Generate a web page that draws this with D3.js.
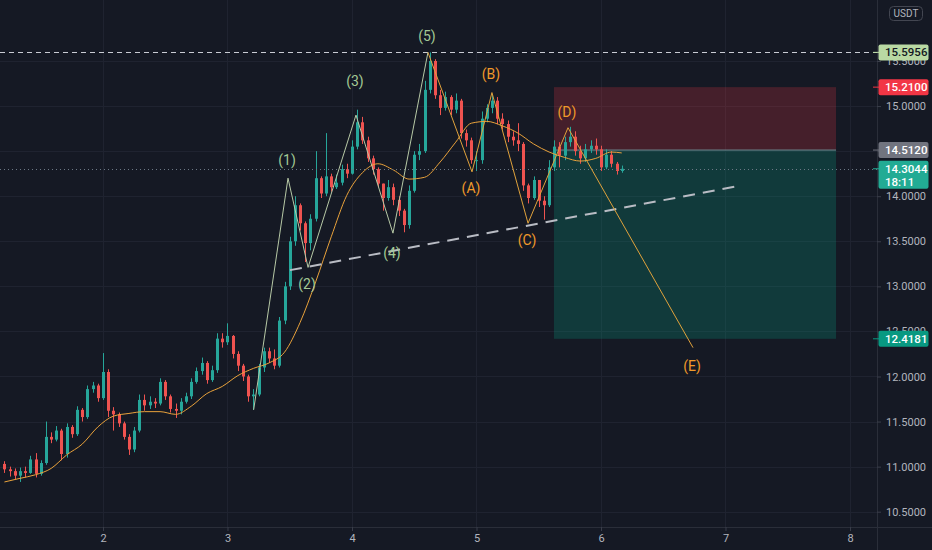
<!DOCTYPE html>
<html>
<head>
<meta charset="utf-8">
<script src="https://cdn.jsdelivr.net/npm/d3@7"></script>
<style>
  html, body { margin: 0; padding: 0; background: #151924; overflow: hidden; }
  svg { display: block; font-family: Roboto, "Noto Sans", "DejaVu Sans", sans-serif; }
</style>
</head>
<body>
<svg id="chart" width="932" height="550"></svg>
<script>
// ---- Hourly candles (USDT pair); candle i opens at hour firstHour + i ----
const firstHour = 29;
const firstOpen = 11.03;
const closes = [
  10.97, 10.95, 10.90, 10.95, 10.93, 11.08, 10.92, 11.04, 11.33, 11.30,
  11.40, 11.14, 11.44, 11.36, 11.63, 11.55, 11.86, 11.90, 11.76, 12.05,
  11.62, 11.58, 11.48, 11.33, 11.19, 11.40, 11.74, 11.68, 11.72, 11.70,
  11.94, 11.78, 11.64, 11.62, 11.72, 11.78, 11.94, 12.06, 12.15, 11.96,
  12.07, 12.42, 12.38, 12.45, 12.25, 12.12, 12.00, 11.78, 11.80, 12.10,
  12.28, 12.20, 12.12, 12.62, 13.00, 13.50, 13.90, 13.70, 13.48, 13.75,
  14.20, 14.03, 14.22, 14.10, 14.15, 14.30, 14.25, 14.55, 14.82, 14.62,
  14.42, 14.30, 14.14, 13.98, 14.10, 13.96, 13.84, 13.68, 14.06, 14.46,
  14.50, 15.18, 15.50, 15.12, 14.98, 15.10, 14.96, 15.06, 14.70, 14.62,
  14.40, 14.40, 14.86, 14.98, 15.06, 14.86, 14.80, 14.66, 14.62, 14.58,
  14.12, 13.98, 14.18, 13.95, 13.90, 14.32, 14.55, 14.45, 14.60, 14.66,
  14.50, 14.42, 14.52, 14.56, 14.52, 14.32, 14.46, 14.36, 14.28, 14.3044
];
const highs = [
  11.06, 11.00, 10.98, 10.99, 11.00, 11.12, 11.15, 11.07, 11.50, 11.38,
  11.45, 11.42, 11.48, 11.46, 11.67, 11.65, 11.90, 11.94, 11.92, 12.26,
  12.08, 11.66, 11.60, 11.50, 11.36, 11.44, 11.80, 11.80, 11.78, 11.76,
  11.98, 11.96, 11.80, 11.70, 11.76, 11.82, 11.98, 12.10, 12.21, 12.17,
  12.12, 12.48, 12.48, 12.59, 12.46, 12.28, 12.14, 12.02, 11.86, 12.14,
  12.32, 12.32, 12.30, 12.66, 13.05, 13.55, 14.00, 13.92, 13.72, 13.80,
  14.50, 14.22, 14.70, 14.25, 14.24, 14.35, 14.36, 14.62, 14.96, 14.88,
  14.66, 14.45, 14.32, 14.12, 14.18, 14.14, 14.00, 13.86, 14.12, 14.50,
  14.58, 15.28, 15.5956, 15.52, 15.18, 15.16, 15.12, 15.14, 15.08, 14.74,
  14.65, 14.50, 14.94, 15.02, 15.12, 15.10, 14.92, 14.84, 14.72, 14.81,
  14.60, 14.14, 14.22, 14.16, 14.00, 14.40, 14.62, 14.60, 14.66, 14.77,
  14.72, 14.56, 14.58, 14.62, 14.64, 14.56, 14.52, 14.50, 14.38, 14.34
];
const lows = [
  10.93, 10.89, 10.86, 10.83, 10.88, 10.92, 10.88, 10.90, 11.02, 11.26,
  11.28, 11.07, 11.10, 11.32, 11.34, 11.50, 11.53, 11.82, 11.72, 11.74,
  11.55, 11.40, 11.44, 11.30, 11.13, 11.16, 11.38, 11.62, 11.64, 11.65,
  11.68, 11.74, 11.60, 11.54, 11.58, 11.70, 11.75, 11.92, 12.02, 11.92,
  11.94, 12.04, 12.32, 12.35, 12.20, 12.06, 11.95, 11.72, 11.63, 11.78,
  12.05, 12.15, 12.08, 12.10, 12.58, 12.96, 13.45, 13.62, 13.27, 13.40,
  13.72, 13.98, 14.00, 14.05, 14.08, 14.12, 14.20, 14.24, 14.52, 14.58,
  14.38, 14.24, 14.10, 13.84, 13.95, 13.90, 13.78, 13.60, 13.64, 14.04,
  14.40, 14.48, 15.14, 15.08, 14.90, 14.95, 14.90, 14.92, 14.64, 14.55,
  14.36, 14.28, 14.36, 14.82, 14.92, 14.80, 14.74, 14.60, 14.56, 14.50,
  14.06, 13.92, 13.96, 13.88, 13.74, 13.88, 14.28, 14.32, 14.40, 14.55,
  14.45, 14.36, 14.38, 14.48, 14.46, 14.28, 14.30, 14.32, 14.24, 14.26
];

// Moving average, sampled every few candles
const maIndex = [0, 3, 6, 9, 12, 15, 18, 21, 24, 27, 30, 33, 36, 39, 42, 45, 48, 51, 54, 57,
  60, 63, 66, 69, 72, 75, 78, 81, 84, 87, 90, 93, 96, 99, 102, 105, 108, 111, 114, 117, 119];
const maValue = [10.83, 10.87, 10.91, 10.98, 11.13, 11.25, 11.44, 11.56, 11.59, 11.61,
  11.61, 11.58, 11.67, 11.81, 11.89, 12.01, 12.09, 12.15, 12.27, 12.60,
  13.05, 13.55, 14.01, 14.26, 14.36, 14.29, 14.19, 14.21, 14.38, 14.60,
  14.81, 14.83, 14.78, 14.70, 14.58, 14.49, 14.43, 14.39, 14.42, 14.49, 14.48];

// Elliott wave counts (day, price)
const impulseLabels = ["", "(1)", "(2)", "(3)", "(4)", "(5)"];
const impulseDays = [3.21, 3.486, 3.647, 4.032, 4.329, 4.610];
const impulsePrices = [11.63, 14.20, 13.21, 14.90, 13.59, 15.5956];
const correctiveLabels = ["", "(A)", "(B)", "(C)", "(D)", "(E)"];
const correctiveDays = [4.610, 4.964, 5.124, 5.414, 5.735, 6.739];
const correctivePrices = [15.5956, 14.27, 15.15, 13.70, 14.76, 12.32];

// Support trendline
const trendDays = [3.502, 7.133];
const trendPrices = [13.18, 14.12];

// Short position: stop, entry, target
const positionDays = [5.622, 7.888];
const stopPrice = 15.21;
const entryPrice = 14.512;
const targetPrice = 12.4181;

const highLevel = 15.5956;
const lastPrice = 14.3044;
const countdown = "18:11";
const currency = "USDT";

const priceTicks = [10.5, 11, 11.5, 12, 12.5, 13, 13.5, 14, 14.5, 15, 15.5];
const dayTicks = [2, 3, 4, 5, 6, 7, 8];

// ---- layout ----
const W = 932, H = 550;
const plotW = 877, plotH = 527;

const x = d3.scaleLinear().domain([1.1727, 8.2169]).range([0, plotW]);
const y = d3.scaleLinear().domain([10.5, 15.5]).range([511.7, 61]);

const svg = d3.select("#chart");
svg.append("rect").attr("width", W).attr("height", H).attr("fill", "#151924");

svg.append("defs").append("clipPath").attr("id", "plot")
  .append("rect").attr("width", plotW).attr("height", plotH);

const plot = svg.append("g").attr("clip-path", "url(#plot)");

// grid
plot.append("g").selectAll("line").data(priceTicks).join("line")
  .attr("x1", 0).attr("x2", plotW)
  .attr("y1", d => Math.round(y(d)) + 0.5).attr("y2", d => Math.round(y(d)) + 0.5)
  .attr("stroke", "#1f2330").attr("stroke-width", 1);
plot.append("g").selectAll("line").data(dayTicks).join("line")
  .attr("x1", d => Math.round(x(d)) + 0.5).attr("x2", d => Math.round(x(d)) + 0.5)
  .attr("y1", 0).attr("y2", plotH)
  .attr("stroke", "#1f2330").attr("stroke-width", 1);

// position zones
const px0 = x(positionDays[0]), px1 = x(positionDays[1]);
plot.append("rect")
  .attr("x", px0).attr("y", y(stopPrice))
  .attr("width", px1 - px0).attr("height", y(entryPrice) - y(stopPrice))
  .attr("fill", "rgba(242,54,69,0.22)");
plot.append("rect")
  .attr("x", px0).attr("y", y(entryPrice))
  .attr("width", px1 - px0).attr("height", y(targetPrice) - y(entryPrice))
  .attr("fill", "rgba(8,153,129,0.26)");
plot.append("line")
  .attr("x1", px0).attr("x2", px1)
  .attr("y1", y(entryPrice)).attr("y2", y(entryPrice))
  .attr("stroke", "#6f8a92").attr("stroke-width", 1);

// candles
const candles = closes.map((c, i) => ({
  day: (firstHour + i) / 24,
  o: i === 0 ? firstOpen : closes[i - 1],
  c: c, h: highs[i], l: lows[i]
}));
const up = "#26a69a", down = "#ef5350";
const cg = plot.append("g");
cg.selectAll("line").data(candles).join("line")
  .attr("x1", d => Math.round(x(d.day)) + 0.5).attr("x2", d => Math.round(x(d.day)) + 0.5)
  .attr("y1", d => y(Math.max(d.h, d.o, d.c))).attr("y2", d => y(Math.min(d.l, d.o, d.c)))
  .attr("stroke", d => d.c >= d.o ? up : down).attr("stroke-width", 1);
cg.selectAll("rect").data(candles).join("rect")
  .attr("x", d => Math.round(x(d.day)) - 1)
  .attr("width", 3)
  .attr("y", d => y(Math.max(d.o, d.c)))
  .attr("height", d => Math.max(1, Math.abs(y(d.o) - y(d.c))))
  .attr("fill", d => d.c >= d.o ? up : down);

// moving average
const maLine = d3.line()
  .x((d, i) => x((firstHour + maIndex[i]) / 24))
  .y(d => y(d))
  .curve(d3.curveMonotoneX);
plot.append("path").datum(maValue)
  .attr("d", maLine).attr("fill", "none")
  .attr("stroke", "#e9a23b").attr("stroke-width", 1);

// level lines
plot.append("line")
  .attr("x1", 0).attr("x2", plotW)
  .attr("y1", Math.round(y(highLevel)) + 0.5).attr("y2", Math.round(y(highLevel)) + 0.5)
  .attr("stroke", "#c9ccd4").attr("stroke-width", 1).attr("stroke-dasharray", "5,4");
plot.append("line")
  .attr("x1", 0).attr("x2", plotW)
  .attr("y1", Math.round(y(lastPrice)) + 0.5).attr("y2", Math.round(y(lastPrice)) + 0.5)
  .attr("stroke", "#6c7885").attr("stroke-width", 1).attr("stroke-dasharray", "1,3");

// trendline
plot.append("line")
  .attr("x1", x(trendDays[0])).attr("y1", y(trendPrices[0]))
  .attr("x2", x(trendDays[1])).attr("y2", y(trendPrices[1]))
  .attr("stroke", "#b9bcc4").attr("stroke-width", 2).attr("stroke-dasharray", "12,8");

// wave lines
const waveLine = d3.line().x(d => x(d[0])).y(d => y(d[1]));
const impulsePts = impulseDays.map((d, i) => [d, impulsePrices[i]]);
const correctivePts = correctiveDays.map((d, i) => [d, correctivePrices[i]]);
plot.append("path").datum(impulsePts).attr("d", waveLine)
  .attr("fill", "none").attr("stroke", "#b7c9a6").attr("stroke-width", 1);
plot.append("path").datum(correctivePts).attr("d", waveLine)
  .attr("fill", "none").attr("stroke", "#e0a23c").attr("stroke-width", 1);

// wave labels: offsets above peaks / below troughs
const impulseDy = [0, -18, 17, -34, 20, -16];
const correctiveDy = [0, 16, -18, 17, -16, 18];
const labelG = plot.append("g").attr("font-size", 14).attr("text-anchor", "middle");
impulsePts.forEach((p, i) => {
  if (!impulseLabels[i]) return;
  labelG.append("text").attr("x", x(p[0]) - 1).attr("y", y(p[1]) + impulseDy[i])
    .attr("dy", "0.35em").attr("fill", "#a3c995").text(impulseLabels[i]);
});
correctivePts.forEach((p, i) => {
  if (!correctiveLabels[i]) return;
  labelG.append("text").attr("x", x(p[0]) - 1).attr("y", y(p[1]) + correctiveDy[i])
    .attr("dy", "0.35em").attr("fill", "#f09a2a").text(correctiveLabels[i]);
});

// ---- axes ----
svg.append("line").attr("x1", 0).attr("x2", W).attr("y1", plotH + 0.5).attr("y2", plotH + 0.5)
  .attr("stroke", "#2a2e39");
svg.append("line").attr("x1", plotW + 0.5).attr("x2", plotW + 0.5).attr("y1", 0).attr("y2", H)
  .attr("stroke", "#2a2e39");

const yAxis = svg.append("g").attr("transform", `translate(${plotW},0)`)
  .call(d3.axisRight(y).tickValues(priceTicks).tickFormat(d3.format(".4f")).tickSize(4).tickPadding(5));
yAxis.select(".domain").remove();
yAxis.selectAll("line").attr("stroke", "#3a3e4a");
yAxis.selectAll("text").attr("fill", "#b2b5be").attr("font-size", 11)
  .attr("font-family", "Roboto, 'Noto Sans', sans-serif");
// the entry tag sits directly on top of this scale label
yAxis.selectAll(".tick").filter(d => Math.abs(y(d) - y(entryPrice)) < 6).select("text").remove();

const xAxis = svg.append("g").attr("transform", `translate(0,${plotH})`)
  .call(d3.axisBottom(x).tickValues(dayTicks).tickFormat(d3.format("d")).tickSize(4).tickPadding(3));
xAxis.select(".domain").remove();
xAxis.selectAll("line").attr("stroke", "#3a3e4a");
xAxis.selectAll("text").attr("fill", "#b2b5be").attr("font-size", 11)
  .attr("font-family", "Roboto, 'Noto Sans', sans-serif");

// price tags on the right scale
function tag(price, lines, fill, color) {
  const cy = y(price);
  const h = lines.length === 1 ? 16 : 28;
  const top = cy - 8;
  svg.append("line").attr("x1", plotW - 4).attr("x2", plotW + 2)
    .attr("y1", cy).attr("y2", cy).attr("stroke", fill).attr("stroke-width", 1);
  svg.append("rect").attr("x", plotW + 1.5).attr("y", top).attr("width", 50).attr("height", h)
    .attr("rx", 2).attr("fill", fill);
  lines.forEach((t, i) => {
    svg.append("text").attr("x", plotW + 8).attr("y", cy + i * 13).attr("dy", "0.35em")
      .attr("font-size", 11.5).attr("font-weight", 500).attr("fill", color).text(t);
  });
}
tag(highLevel, [d3.format(".4f")(highLevel)], "#b9d9a3", "#131722");
tag(stopPrice, [d3.format(".4f")(stopPrice)], "#f23645", "#ffffff");
tag(entryPrice, [d3.format(".4f")(entryPrice)], "#71747f", "#ffffff");
tag(lastPrice, [d3.format(".4f")(lastPrice), countdown], "#22ab94", "#ffffff");
tag(targetPrice, [d3.format(".4f")(targetPrice)], "#089981", "#ffffff");

// currency badge
svg.append("rect").attr("x", 889.5).attr("y", 6.5).attr("width", 33).attr("height", 14)
  .attr("rx", 4).attr("fill", "none").attr("stroke", "#434651");
svg.append("text").attr("x", 906).attr("y", 13.5).attr("dy", "0.35em").attr("text-anchor", "middle")
  .attr("font-size", 10).attr("fill", "#b2b5be").text(currency);
</script>
</body>
</html>
